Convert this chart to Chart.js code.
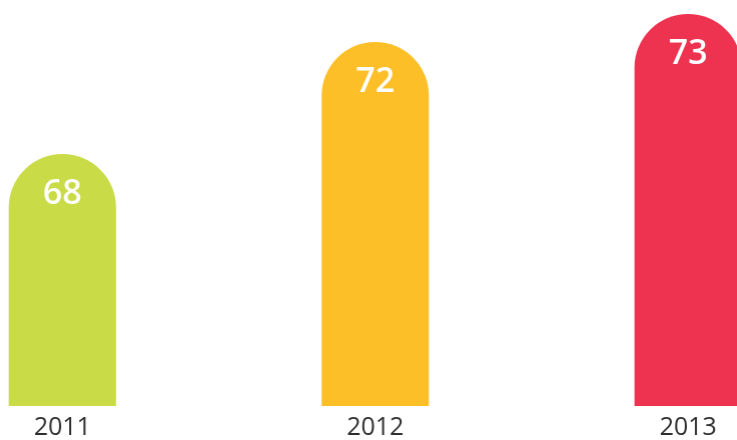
<!DOCTYPE html>
<html>
<head>
<meta charset="utf-8">
<script src="https://cdn.jsdelivr.net/npm/chart.js@4"></script>
<style>
  html, body { margin: 0; padding: 0; background: #fff; overflow: hidden; }
  body { width: 737px; height: 440px; position: relative; }
  /* el área del gráfico es más ancha que la ventana: la última barra queda cortada */
  #caja { position: absolute; left: -93.75px; top: 0; width: 937.5px; height: 440px; }
</style>
</head>
<body>
<div id="caja"><canvas id="miGrafico"></canvas></div>
<script>
const anios = ["2011", "2012", "2013"];
const valores = [68, 72, 73];
const colores = ["#c9db46", "#fcbf28", "#ee3350"];

// Etiquetas blancas con el valor dentro de la parte alta de cada barra
const etiquetasValor = {
  id: "etiquetasValor",
  afterDatasetsDraw(chart) {
    const c = chart.ctx;
    const meta = chart.getDatasetMeta(0);
    c.save();
    c.fillStyle = "#ffffff";
    c.font = "600 34px 'Open Sans'";
    c.textAlign = "center";
    c.textBaseline = "middle";
    meta.data.forEach((barra, i) => {
      c.fillText(String(valores[i]), barra.x, barra.y + 40);
    });
    c.restore();
  }
};

const ctx = document.getElementById("miGrafico").getContext("2d");

const miGrafico = new Chart(ctx, {
  type: "bar",
  data: {
    labels: anios,
    datasets: [
      {
        data: valores,
        backgroundColor: colores,
        borderWidth: 0,
        borderSkipped: "bottom",
        borderRadius: { topLeft: 60, topRight: 60, bottomLeft: 0, bottomRight: 0 },
        categoryPercentage: 1,
        barPercentage: 0.343
      }
    ]
  },
  options: {
    responsive: true,
    maintainAspectRatio: false,
    animation: false,
    layout: { padding: { top: 0, left: 0, right: 0, bottom: -9 } },
    scales: {
      x: {
        grid: { display: false, drawTicks: false },
        border: { display: false },
        ticks: {
          color: "#2e2e2e",
          padding: 9,
          font: { family: "'Open Sans'", size: 25, lineHeight: 1 }
        }
      },
      y: {
        display: false,
        min: 59,
        max: 73.5
      }
    },
    plugins: {
      legend: { display: false },
      tooltip: { enabled: false }
    }
  },
  plugins: [etiquetasValor]
});
</script>
</body>
</html>
